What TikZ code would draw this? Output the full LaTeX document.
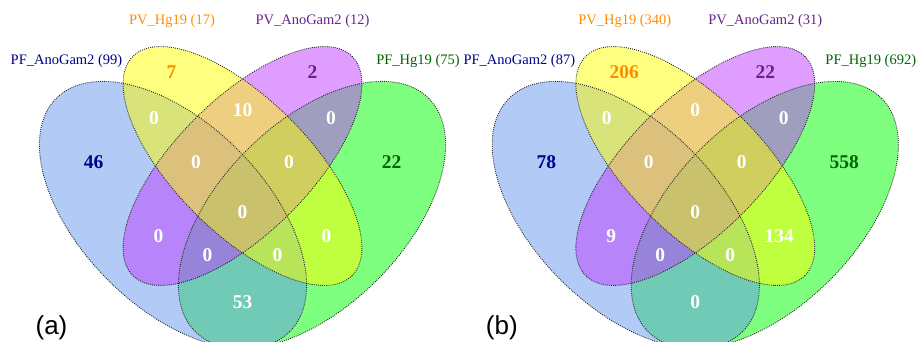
\documentclass[tikz,border=0pt]{standalone}
\usepackage{fontspec}
\setmainfont{Liberation Serif}
\newfontfamily\tagfont{Liberation Sans}

% set colours (filled at half opacity) and text colours
\definecolor{setA}{RGB}{100,149,237}
\definecolor{setB}{RGB}{255,255,0}
\definecolor{setC}{RGB}{191,62,255}
\definecolor{setD}{RGB}{0,255,0}
\definecolor{txtA}{RGB}{0,0,139}
\definecolor{txtB}{RGB}{255,140,0}
\definecolor{txtC}{RGB}{104,34,139}
\definecolor{txtD}{RGB}{0,100,0}

\begin{document}
\begin{tikzpicture}
  [x=1pt,y=-1pt,
   rim/.style={draw=black!85,line width=.9pt,dash pattern=on .9pt off 1.2pt},
   setname/.style={font=\fontsize{14.5}{16}\selectfont,inner sep=0pt},
   count/.style={font=\fontsize{19.5}{20}\selectfont\bfseries,inner sep=0pt,text=white},
   tag/.style={font=\tagfont\fontsize{26}{28}\selectfont,inner sep=0pt}]

  \useasboundingbox (0,0) rectangle (918,342);
  \clip (0,0) rectangle (918,342);

  % the four ellipses, once per diagram
  \foreach \s in {0,452.8} {
    \begin{scope}[xshift=\s pt]
      \fill[setD,fill opacity=.5,shift={(312,215)},rotate=45] (0,0) ellipse (165 and 92);
      \fill[setA,fill opacity=.5,shift={(173,215)},rotate=-45] (0,0) ellipse (165 and 92);
      \fill[setC,fill opacity=.5,shift={(242.5,166)},rotate=45] (0,0) ellipse (155 and 67);
      \fill[setB,fill opacity=.5,shift={(242.5,166)},rotate=-45] (0,0) ellipse (155 and 67);
      \foreach \cx/\cy/\rx/\ry/\ang in {312/215/165/92/45, 173/215/165/92/-45,
          242.5/166/155/67/45, 242.5/166/155/67/-45}
        \draw[rim,shift={(\cx,\cy)},rotate=\ang] (0,0) ellipse [x radius=\rx,y radius=\ry];
    \end{scope}
  }

  % (a)
  \node[setname,text=txtA] (a-nameA) at (66.5,61.5) {PF\_AnoGam2 (99)};
  \node[setname,text=txtB] (a-nameB) at (172,21.5) {PV\_Hg19 (17)};
  \node[setname,text=txtC] (a-nameC) at (312.5,21.5) {PV\_AnoGam2 (12)};
  \node[setname,text=txtD] (a-nameD) at (418,61.5) {PF\_Hg19 (75)};

  \node[count,text=txtA] (a-A) at (93.5,162) {46};
  \node[count,text=txtB] (a-B) at (171.5,72) {7};
  \node[count,text=txtC] (a-C) at (312.5,72) {2};
  \node[count,text=txtD] (a-D) at (391.5,162) {22};
  \foreach \reg/\px/\py/\v in {AB/154/118/0, BC/242.5/110/10, CD/331/118/0,
      ABC/196/162/0, BCD/289/162/0, ABCD/242.5/212/0, AC/158.5/236/0,
      BD/326.5/236/0, ACD/207.5/255/0, ABD/277.5/255/0, AD/242.5/302/53}
    \node[count] (a-\reg) at (\px,\py) {\v};

  \node[tag] (tag-a) at (51.5,328) {(a)};

  % (b)
  \begin{scope}[xshift=452.8pt]
    \node[setname,text=txtA] (b-nameA) at (66.5,61.5) {PF\_AnoGam2 (87)};
    \node[setname,text=txtB] (b-nameB) at (172,21.5) {PV\_Hg19 (340)};
    \node[setname,text=txtC] (b-nameC) at (312.5,21.5) {PV\_AnoGam2 (31)};
    \node[setname,text=txtD] (b-nameD) at (418,61.5) {PF\_Hg19 (692)};

    \node[count,text=txtA] (b-A) at (93.5,162) {78};
    \node[count,text=txtB] (b-B) at (171.5,72) {206};
    \node[count,text=txtC] (b-C) at (312.5,72) {22};
    \node[count,text=txtD] (b-D) at (391.5,162) {558};
    \foreach \reg/\px/\py/\v in {AB/154/118/0, BC/242.5/110/0, CD/331/118/0,
        ABC/196/162/0, BCD/289/162/0, ABCD/242.5/212/0, AC/158.5/236/9,
        BD/326.5/236/134, ACD/207.5/255/0, ABD/277.5/255/0, AD/242.5/302/0}
      \node[count] (b-\reg) at (\px,\py) {\v};

    \node[tag] (tag-b) at (49,328) {(b)};
  \end{scope}
\end{tikzpicture}
\end{document}
